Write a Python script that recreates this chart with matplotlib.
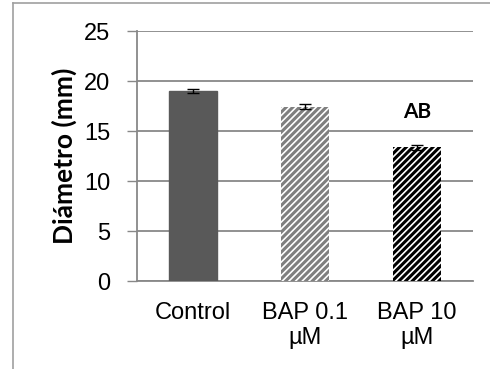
import matplotlib.pyplot as plt
from matplotlib.lines import Line2D

categories = ['Control', 'BAP 0.1\nµM', 'BAP 10\nµM']
diametro = [19.0, 17.45, 13.4]
error = [0.2, 0.22, 0.25]
letras = ['', '', 'AB']

plt.rcParams['font.family'] = ['Liberation Sans', 'DejaVu Sans']
plt.rcParams['hatch.linewidth'] = 2.2

fig = plt.figure(figsize=(4.9, 3.69), dpi=100)
ax = fig.add_axes([137/490, 1-281/369, 336/490, 250/369])

x = range(len(categories))
bars = ax.bar(x, diametro, width=0.42, zorder=3)
bars[0].set_facecolor('#595959')
bars[0].set_edgecolor('#595959')
bars[1].set_facecolor('white')
bars[1].set_edgecolor('#7f7f7f')
bars[1].set_hatch('/////')
bars[1].set_linewidth(0)
bars[2].set_facecolor('white')
bars[2].set_edgecolor('black')
bars[2].set_hatch('/////')
bars[2].set_linewidth(0)

ax.errorbar(x, diametro, yerr=error, fmt='none', ecolor='black',
            elinewidth=1, capsize=4, capthick=1, zorder=4)

for i, t in enumerate(letras):
    if t:
        ax.text(i, diametro[i] + 3.5, t, ha='center', va='center',
                fontsize=15, fontweight='bold', family=['Lato', 'DejaVu Sans'])

ax.set_xlim(-0.5, 2.5)
ax.set_ylim(0, 25)
ax.set_yticks([0, 5, 10, 15, 20, 25])
ax.yaxis.grid(True, color='#888888', linewidth=1.3, zorder=0)
ax.set_axisbelow(True)
ax.set_xticks(list(x))
ax.set_xticklabels(categories, fontsize=17, linespacing=1.2)
ax.tick_params(axis='y', labelsize=17, length=7, width=1, color='#888888', pad=12)
ax.tick_params(axis='x', length=0, pad=15)
for s in ['top', 'right']:
    ax.spines[s].set_visible(False)
for s in ['left', 'bottom']:
    ax.spines[s].set_color('#888888')
    ax.spines[s].set_linewidth(1.3)

ax.set_ylabel('Diámetro (mm)', fontsize=19, fontweight='bold',
              family=['Lato', 'DejaVu Sans'], labelpad=5)

# outer chart border (cut off on the right and bottom)
fig.add_artist(Line2D([13/490, 13/490], [0, 1-3/369], color='#a0a0a0', lw=1.2))
fig.add_artist(Line2D([13/490, 1], [1-3/369, 1-3/369], color='#a0a0a0', lw=1.2))

fig.savefig('out.png', dpi=100)
